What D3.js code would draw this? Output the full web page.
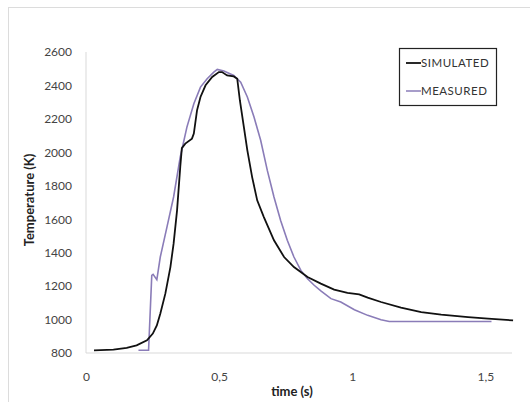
<!DOCTYPE html>
<html><head><meta charset="utf-8">
<script src="https://cdn.jsdelivr.net/npm/d3@7"></script>
<style>body{margin:0;background:#fff}svg{display:block}</style>
</head><body>
<svg id="c" width="530" height="402"></svg>
<script>
const simTime = [0.03,0.103,0.153,0.19,0.229,0.251,0.266,0.279,0.298,0.317,0.329,0.342,0.354,0.36,0.373,0.398,0.405,0.417,0.43,0.449,0.474,0.499,0.511,0.53,0.555,0.568,0.578,0.593,0.606,0.624,0.643,0.668,0.706,0.744,0.781,0.832,0.882,0.932,0.982,1.026,1.058,1.108,1.183,1.259,1.334,1.435,1.51,1.604];
const simTemp = [816,820,830,846,876,916,965,1035,1155,1314,1454,1653,1912,2025,2052,2082,2112,2251,2331,2401,2451,2480,2480,2460,2454,2440,2310,2151,2012,1852,1713,1613,1474,1374,1314,1254,1215,1179,1159,1151,1131,1105,1071,1045,1029,1015,1005,995];
const measTime = [0.197,0.235,0.247,0.252,0.266,0.279,0.304,0.329,0.354,0.379,0.405,0.43,0.455,0.48,0.493,0.518,0.555,0.581,0.606,0.631,0.656,0.681,0.706,0.731,0.756,0.781,0.807,0.832,0.857,0.882,0.92,0.957,1.008,1.058,1.108,1.139,1.183,1.523];
const measTemp = [816,816,1264,1270,1238,1374,1553,1733,1972,2151,2291,2390,2440,2480,2496,2486,2460,2420,2331,2211,2072,1892,1733,1593,1474,1374,1294,1244,1205,1171,1125,1105,1059,1025,999,988,988,988];
const yTicks = [800,1000,1200,1400,1600,1800,2000,2200,2400,2600];
const xTicks = [0,0.5,1,1.5];
const xTickLabels = ["0","0,5","1","1,5"];
const seriesNames = ["SIMULATED","MEASURED"];
const seriesColors = ["#111111","#8a7cb8"];

const svg = d3.select("#c");
const font = "Lato, 'Open Sans', sans-serif";
svg.append("rect").attr("x",8.5).attr("y",7.5).attr("width",530).attr("height",402)
  .attr("fill","none").attr("stroke","#dcdcdc");

const x = d3.scaleLinear().domain([0,1.6]).range([86,512]);
const y = d3.scaleLinear().domain([800,2600]).range([353,52]);

svg.append("line").attr("x1",x(0)).attr("x2",x(0)).attr("y1",y(2600)).attr("y2",y(800)).attr("stroke","#d9d9d9");
svg.append("line").attr("x1",x(0)).attr("x2",x(1.6)).attr("y1",y(800)).attr("y2",y(800)).attr("stroke","#d9d9d9");

const yAxis = svg.append("g").attr("transform",`translate(${x(0)},0)`)
  .call(d3.axisLeft(y).tickValues(yTicks).tickSize(0).tickPadding(14).tickFormat(d3.format("d")));
yAxis.select(".domain").remove();
yAxis.selectAll("text").attr("font-family",font).attr("font-size",12).attr("fill","#444");

const xAxis = svg.append("g").attr("transform",`translate(0,${y(800)})`)
  .call(d3.axisBottom(x).tickValues(xTicks).tickSize(0).tickPadding(19).tickFormat((d,i)=>xTickLabels[i]));
xAxis.select(".domain").remove();
xAxis.selectAll("text").attr("font-family",font).attr("font-size",12).attr("fill","#444");

svg.append("text").attr("x",292).attr("y",396).attr("text-anchor","middle")
  .attr("font-family",font).attr("font-weight","bold").attr("font-size",13).attr("fill","#222").text("time (s)");
svg.append("text").attr("transform","translate(34,200) rotate(-90)").attr("text-anchor","middle")
  .attr("font-family",font).attr("font-weight","bold").attr("font-size",13).attr("fill","#222").text("Temperature (K)");

const line = d3.line().x(d=>x(d[0])).y(d=>y(d[1])).curve(d3.curveLinear);
const meas = measTime.map((t,i)=>[t,measTemp[i]]);
const sim = simTime.map((t,i)=>[t,simTemp[i]]);
svg.append("path").datum(meas).attr("d",line).attr("fill","none").attr("stroke",seriesColors[1]).attr("stroke-width",1.6);
svg.append("path").datum(sim).attr("d",line).attr("fill","none").attr("stroke",seriesColors[0]).attr("stroke-width",1.8);

svg.append("rect").attr("x",399.5).attr("y",48.5).attr("width",97).attr("height",57).attr("fill","#fff").attr("stroke","#222").attr("stroke-width",1.2);
seriesNames.forEach((n,i)=>{
  const yy = 63 + i*28;
  svg.append("line").attr("x1",406).attr("x2",421).attr("y1",yy).attr("y2",yy).attr("stroke",seriesColors[i]).attr("stroke-width",i?1.5:1.8);
  svg.append("text").attr("x",421).attr("y",yy+4).attr("font-family",font).attr("font-size",11.5)
    .attr("letter-spacing",0.5).attr("fill","#333").text(n);
});
</script>
</body></html>
